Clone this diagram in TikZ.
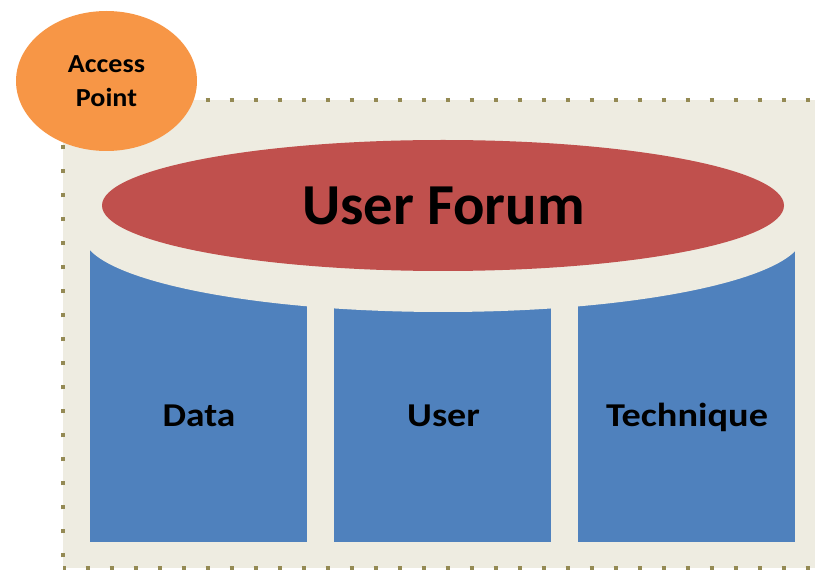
\documentclass[tikz,border=0pt]{standalone}
\usepackage{fontspec}
\setmainfont{Carlito}
\definecolor{bgtan}{HTML}{EEECE1}
\definecolor{olivedot}{HTML}{948A54}
\definecolor{colblue}{HTML}{4F81BD}
\definecolor{forumred}{HTML}{C0504D}
\definecolor{aporange}{HTML}{F79646}
\tikzset{
  lbl/.style={text=black, align=center, inner sep=0pt},
  collbl/.style={lbl, anchor=base, font=\fontsize{25}{30}\selectfont\bfseries},
  dotline/.style={olivedot, line width=3pt, dash pattern=on 3pt off 15pt},
}
\newcommand{\wide}[2]{\scalebox{#1}[1]{#2}}
\begin{document}
\begin{tikzpicture}[x=0.75pt,y=-0.75pt]
\useasboundingbox (0,0) rectangle (815,570);
\begin{scope}
\clip (0,0) rectangle (815,570);
% background panel with dotted border
\fill[bgtan] (63,100) rectangle (830,568);
\draw[dotline, dash phase=1pt] (63,580) -- (63,100) -- (830,100);
\draw[dotline, dash phase=1pt] (63,568) -- (830,568);
\end{scope}
% columns: rectangles whose tops are cut by the lower arc of an ellipse
\foreach \xa/\xb in {90/307, 334/551, 578/795}{
  \fill[colblue] (\xa,243) rectangle (\xb,542);
}
\fill[bgtan] (443,235) ellipse [x radius=360, y radius=77];
% forum ellipse
\fill[forumred] (443,205.5) ellipse [x radius=341, y radius=65.5];
\node[lbl, anchor=base, font=\fontsize{43.5}{50}\selectfont\bfseries] (forum) at (443.5,225) {\wide{1.01}{User Forum}};
% column labels
\node[collbl] (data) at (199,426.5) {\wide{1.12}{Data}};
\node[collbl] (user) at (443.5,426.5) {\wide{1.14}{User}};
\node[collbl] (tech) at (687,426.5) {\wide{1.15}{Technique}};
% access point
\fill[aporange] (106.5,81) ellipse [x radius=90.5, y radius=70];
\node[lbl, anchor=base, font=\fontsize{19.5}{24}\selectfont\bfseries] (ap1) at (106.5,72.3) {\wide{1.08}{Access}};
\node[lbl, anchor=base, font=\fontsize{19.5}{24}\selectfont\bfseries] (ap2) at (106.5,106.7) {\wide{1.08}{Point}};
\end{tikzpicture}
\end{document}
